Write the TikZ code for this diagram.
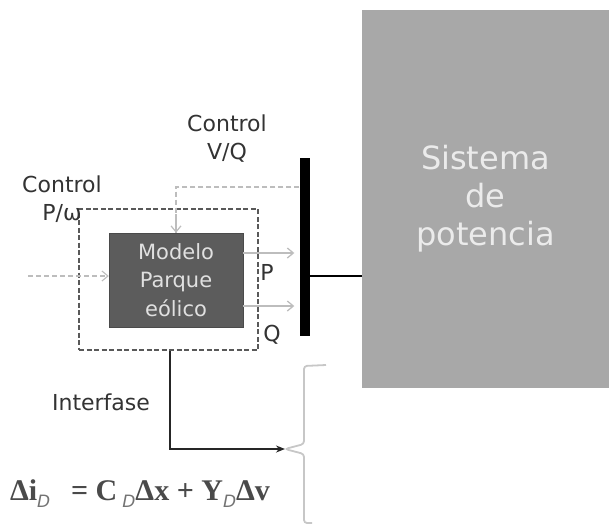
\documentclass[tikz,border=0pt]{standalone}
\usepackage{fontspec}
\setmainfont{DejaVu Sans}
\newfontfamily\eqfont{Liberation Serif}
\newfontfamily\subfont{DejaVu Sans}
\usetikzlibrary{arrows.meta}
\definecolor{sysgray}{HTML}{A8A8A8}
\definecolor{modgray}{HTML}{5C5C5C}
\definecolor{lightline}{HTML}{BDBDBD}
\definecolor{labelgray}{HTML}{333333}
\definecolor{eqgray}{HTML}{4A4A4A}
\newcommand{\eqsub}[1]{\raisebox{-7pt}{\subfont\itshape\mdseries\fontsize{17}{17}\selectfont\color{black!55}#1}}
\begin{document}
\begin{tikzpicture}[x=1pt,y=-1pt,
  sysbox/.style={rectangle, fill=sysgray, draw=none, text=white!92!black,
    align=center, font=\fontsize{32}{38}\selectfont},
  modbox/.style={rectangle, fill=modgray, draw=modgray!80!black, text=white!88!black,
    align=center, font=\fontsize{21}{28.5}\selectfont},
  framebox/.style={rectangle, draw=black!65, dashed, dash pattern=on 5pt off 2.5pt, line width=1.1pt},
  busbar/.style={rectangle, fill=black, inner sep=0pt},
  lbl/.style={text=labelgray, align=center, font=\fontsize{22}{28}\selectfont},
  flow/.style={draw=lightline, line width=1.3pt, -{Straight Barb[length=6pt,width=10pt]}},
  ctrl/.style={draw=lightline, line width=1.1pt, dash pattern=on 5pt off 3pt},
  link/.style={draw=black, line width=1.6pt},
  bracestyle/.style={draw=black!22, line width=1.8pt, rounded corners=3pt}
]
\useasboundingbox (0,0) rectangle (609,527);

% power system block
\node[sysbox, minimum width=247pt, minimum height=378pt] (sys) at (485.5,199)
  {Sistema\\de\\potencia};

% wind farm model inside its dashed control frame
\node[framebox, minimum width=179pt, minimum height=141pt] (frame) at (168.5,279.5) {};
\node[modbox, minimum width=134pt, minimum height=94pt] (model) at (176,280)
  {Modelo\\Parque\\eólico};

% bus bar
\node[busbar, minimum width=10pt, minimum height=178pt] (bus) at (304.5,247) {};

% labels
\node[lbl] (cpw) at (62,199) {Control\\P/ω};
\node[lbl] (cvq) at (227,139) {Control\\V/Q};
\node[lbl] (plbl) at (267,272) {P};
\node[lbl] (qlbl) at (272,335) {Q};
\node[lbl] (intf) at (101,402) {Interfase};
\node[text=eqgray, font=\eqfont\bfseries\fontsize{30}{32}\selectfont] (eq) at (140,494)
  {Δi\eqsub{D}\;\, = C\,\eqsub{D}Δx + Y\eqsub{D}Δv};

% bus to power system
\draw[link] (bus.east |- 0,276) -- (sys.west |- 0,276);

% P and Q injections
\draw[flow] (model.east |- 0,253) -- ([xshift=-5pt]bus.west |- 0,253);
\draw[flow] (model.east |- 0,306) -- ([xshift=-5pt]bus.west |- 0,306);

% control signals
\draw[ctrl] (bus.west |- 0,187) -| (model.north);
\draw[draw=lightline, line width=1.2pt, -{Straight Barb[length=6pt,width=10pt]}]
  (model.north |- 0,214) -- (model.north);
\coordinate (inp) at (28,276);
\draw[ctrl, -{Straight Barb[length=6pt,width=10pt]}] (inp) -- (model.west |- inp);

% interface brace and link
\coordinate (cusp) at (285,449);
\draw[bracestyle] (326,365) -- (304,366) -- (304,444) -- (cusp) -- (304,454) -- (304,523) -- (312,523);
\draw[black!85, line width=1.5pt, -{Stealth[length=9pt,width=7pt]}]
  (frame.south -| 170,0) |- (cusp);
\end{tikzpicture}
\end{document}
